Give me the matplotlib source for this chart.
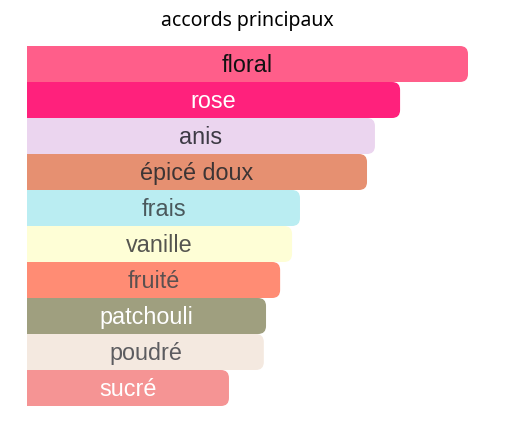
import matplotlib.pyplot as plt
from matplotlib.patches import FancyBboxPatch

# accords, longueur relative (floral = 100)
accords = ['floral', 'rose', 'anis', 'épicé doux', 'frais', 'vanille',
           'fruité', 'patchouli', 'poudré', 'sucré']
valeurs = [100, 84.6, 78.9, 77.1, 61.9, 60.1, 57.4, 54.2, 53.7, 45.8]
couleurs = ['#FF5E8A', '#FF217C', '#EBD5EF', '#E69071', '#BAEDF2',
            '#FEFED6', '#FF8C74', '#9F9F7F', '#F4E9E0', '#F59494']
couleurs_texte = ['#111111', '#FFFFFF', '#3D3A45', '#3D3535', '#4A585C',
                  '#555550', '#5A5050', '#FFFFFF', '#5C5C60', '#FFFFFF']

W, H = 509, 434
fig = plt.figure(figsize=(W / 100, H / 100), dpi=100)
# zone des barres en pixels : x 27..468, y 46..406
ax = fig.add_axes([27 / W, (H - 406) / H, 441 / W, 360 / H])
ax.set_xlim(0, 100)
ax.set_ylim(len(accords), 0)
ax.axis('off')

px_x = 441 / 100  # pixels par unite x
px_y = 36         # pixels par barre
r = 8 / px_x      # rayon des coins en unites x

for i, (nom, v) in enumerate(zip(accords, valeurs)):
    barre = FancyBboxPatch((-10, i), v + 10, 1,
                           boxstyle='round,pad=0,rounding_size=%f' % r,
                           mutation_aspect=px_x / px_y,
                           facecolor=couleurs[i], edgecolor='none')
    ax.add_patch(barre)
    ax.text(v / 2, i + 0.47, nom, ha='center', va='center_baseline',
            fontsize=16.8, family='Liberation Sans', color=couleurs_texte[i])

fig.text(247.5 / W, 1 - 21 / H, 'accords principaux', ha='center', va='center',
         fontsize=14, family='Noto Sans', color='#000000')

plt.savefig('out.png', dpi=100)
